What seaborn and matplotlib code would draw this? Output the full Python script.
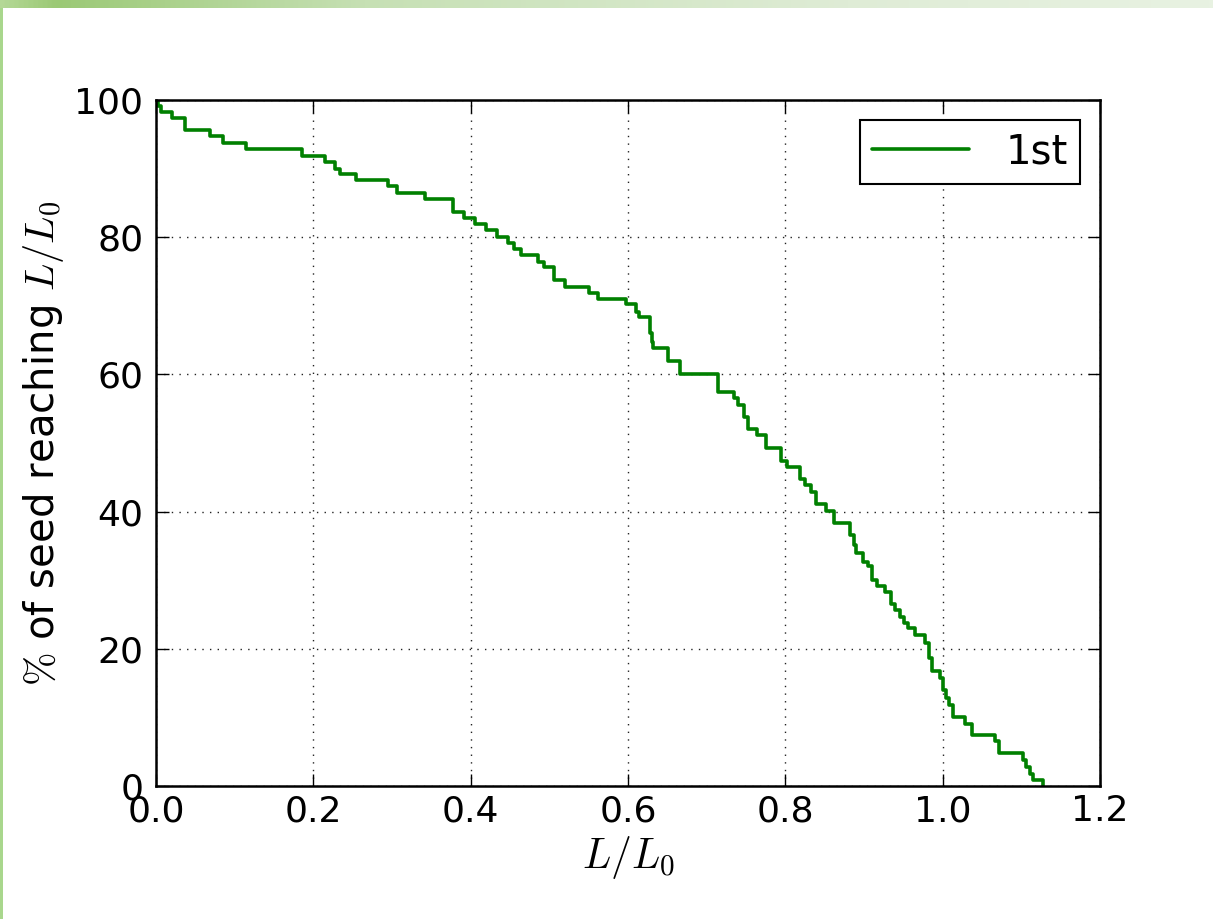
import numpy as np
import pandas as pd
import matplotlib
matplotlib.use("Agg")
import matplotlib.pyplot as plt
from matplotlib.colors import LinearSegmentedColormap
import seaborn as sns

# Survival curve: fraction of seeds still growing beyond a given L/L0
l_ratio = [0.000, 0.003, 0.006, 0.020, 0.037, 0.069, 0.085, 0.114, 0.185, 0.215,
           0.228, 0.234, 0.254, 0.295, 0.306, 0.342, 0.378, 0.391, 0.405, 0.420,
           0.434, 0.448, 0.455, 0.464, 0.486, 0.493, 0.506, 0.520, 0.551, 0.562,
           0.597, 0.610, 0.614, 0.628, 0.630, 0.632, 0.651, 0.666, 0.715, 0.735,
           0.740, 0.747, 0.753, 0.764, 0.776, 0.795, 0.802, 0.819, 0.825, 0.833,
           0.839, 0.852, 0.862, 0.882, 0.887, 0.890, 0.899, 0.905, 0.910, 0.917,
           0.927, 0.934, 0.939, 0.946, 0.951, 0.956, 0.965, 0.977, 0.982, 0.986,
           0.996, 1.000, 1.004, 1.008, 1.013, 1.028, 1.037, 1.066, 1.072, 1.102,
           1.106, 1.111, 1.115, 1.128]
pct_reaching = [100.0, 99.1, 98.3, 97.4, 95.6, 94.7, 93.8, 92.8, 91.9, 91.0,
                90.0, 89.2, 88.3, 87.4, 86.5, 85.6, 83.7, 82.8, 81.9, 81.0,
                80.1, 79.2, 78.3, 77.4, 76.4, 75.6, 73.8, 72.8, 71.9, 71.0,
                70.2, 69.1, 68.3, 66.0, 64.7, 63.8, 62.0, 60.1, 57.4, 56.5,
                55.5, 53.8, 52.0, 51.1, 49.2, 47.4, 46.5, 44.8, 43.9, 42.9,
                41.1, 40.1, 38.3, 36.6, 35.2, 33.9, 32.7, 32.0, 30.0, 29.2,
                28.3, 26.6, 25.7, 24.7, 23.8, 23.0, 22.0, 20.8, 18.7, 16.7,
                15.7, 14.0, 12.8, 11.8, 10.1, 9.1, 7.4, 6.5, 4.8, 3.8,
                2.8, 1.8, 0.9, 0.0]
series_name = "1st"

x_ticks = [0.0, 0.2, 0.4, 0.6, 0.8, 1.0, 1.2]
y_ticks = [0, 20, 40, 60, 80, 100]

df = pd.DataFrame({"L": l_ratio, "pct": pct_reaching, "run": series_name})

sns.set_style("white")
plt.rcParams["font.family"] = ["DejaVu Sans"]
plt.rcParams["mathtext.fontset"] = "cm"
plt.rcParams["text.color"] = "black"
plt.rcParams["axes.labelcolor"] = "black"

W, H = 1213, 919
fig = plt.figure(figsize=(W / 100, H / 100), dpi=100, facecolor="white")

# slide decoration: gradient band on top and thin border on the left
band = fig.add_axes([0, 1 - 8 / H, 1, 8 / H])
cmap = LinearSegmentedColormap.from_list(
    "band", [(0.0, "#b4d896"), (0.045, "#9bc975"), (0.3, "#c6e0b4"),
             (0.7, "#dfecd6"), (1.0, "#e8f2e2")])
band.imshow(np.linspace(0, 1, 512)[None, :], aspect="auto", cmap=cmap,
            extent=[0, 1, 0, 1])
band.set_axis_off()
edge = fig.add_axes([0, 0, 2.5 / W, 1 - 8 / H])
edge.set_facecolor("#a9d78d")
edge.set_xticks([]); edge.set_yticks([])
for s in edge.spines.values():
    s.set_visible(False)

ax = fig.add_axes([156 / W, 133 / H, 944 / W, 686 / H])
sns.lineplot(data=df, x="L", y="pct", hue="run", palette=["#008000"],
             estimator=None, sort=False, drawstyle="steps-post",
             linewidth=2.6, ax=ax)

ax.set_xlim(0, 1.2)
ax.set_ylim(0, 100)
ax.set_xticks(x_ticks)
ax.set_xticklabels([f"{t:.1f}" for t in x_ticks])
ax.set_yticks(y_ticks)
ax.set_yticklabels([str(t) for t in y_ticks])

ax.grid(True, color="#222222", linestyle=(0, (1, 4.5)), linewidth=1.0)
for s in ax.spines.values():
    s.set_visible(True)
    s.set_color("black")
    s.set_linewidth(1.8)
ax.tick_params(axis="both", which="major", direction="in", length=9, width=1,
               labelsize=26, top=True, right=True, bottom=True, left=True,
               color="black", labelcolor="black")
ax.tick_params(axis="x", pad=6)
ax.tick_params(axis="y", pad=9)

ax.set_xlabel(r"$L/L_0$", fontsize=30, labelpad=4)
ax.set_ylabel(r"$\%$ of seed reaching $L/L_0$", fontsize=29, labelpad=6)

leg = ax.legend(loc="upper right", fontsize=29, handlelength=2.4,
                frameon=True, fancybox=False, shadow=False,
                borderaxespad=0.5, borderpad=0.3, handletextpad=0.9)
leg.get_frame().set_edgecolor("black")
leg.get_frame().set_linewidth(1.5)
leg.get_frame().set_alpha(1)
leg.set_title(None)
for t in leg.get_texts():
    t.set_color("black")

fig.savefig("out.png", dpi=100, facecolor="white")
